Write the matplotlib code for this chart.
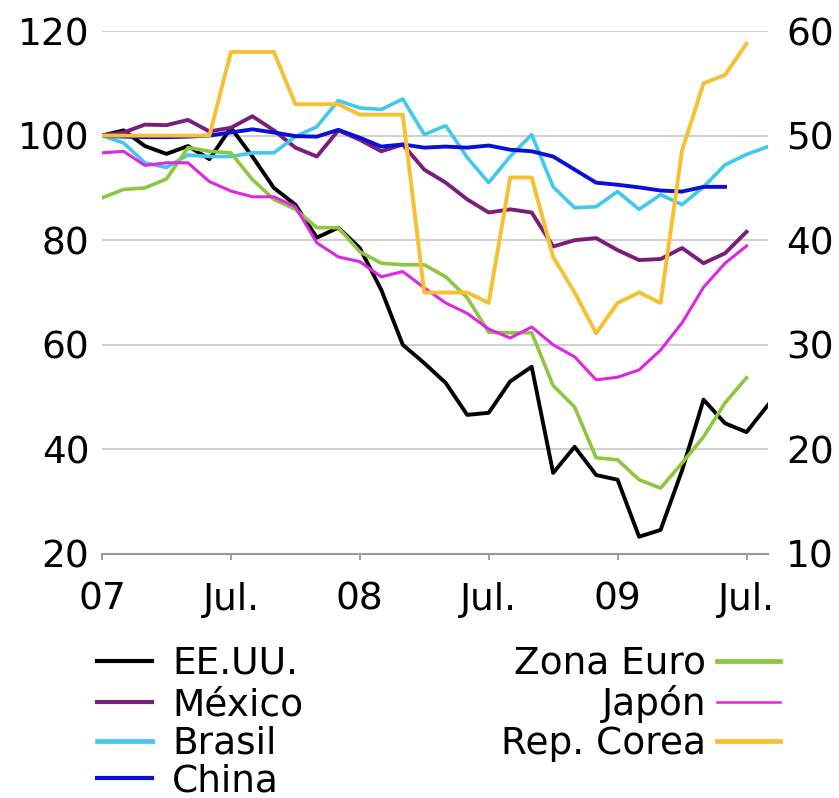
import numpy as np
import matplotlib
matplotlib.use("Agg")
import matplotlib.pyplot as plt
from matplotlib.lines import Line2D

# meses desde ene-2007 (indice 0) hasta ago-2009 (indice 31)
months = np.arange(32)
tick_pos = [0, 6, 12, 18, 24, 30]
tick_labels = ["07", "Jul.", "08", "Jul.", "09", "Jul."]

eeuu = [100, 101, 98, 96.5, 98, 95.5, 101.5, 96, 90, 86.8, 80.5, 82.4,
        78.5, 70.5, 60, 56.5, 52.7, 46.6, 47, 53, 55.8, 35.5, 40.5, 35.1,
        34.2, 23.3, 24.6, 36, 49.5, 45, 43.3, 48.5]
mexico = [100, 100.6, 102.1, 102, 103, 100.8, 101.5, 103.7, 101, 97.7, 96, 101,
          99.2, 97, 98.3, 93.5, 91, 87.8, 85.3, 85.9, 85.3, 78.8, 80, 80.4,
          78.1, 76.2, 76.4, 78.5, 75.6, 77.5, 81.6]
brasil = [100, 98.6, 94.8, 93.9, 96.3, 96, 96, 96.7, 96.7, 99.8, 101.7, 106.7,
          105.3, 105, 107, 100.2, 101.9, 95.8, 91, 96, 100.2, 90.2, 86.2, 86.4,
          89.3, 85.9, 88.7, 86.8, 90.2, 94.4, 96.4, 97.9]
china = [100, 99.8, 99.7, 99.7, 99.8, 100, 100.6, 101.2, 100.6, 99.9, 99.8, 101.1,
         99.6, 97.9, 98.3, 97.7, 97.9, 97.7, 98.1, 97.3, 97, 96, 93.5, 91,
         90.6, 90.1, 89.5, 89.3, 90.2, 90.2]
zona_euro = [88.1, 89.7, 90, 91.7, 97.7, 97, 96.7, 91.6, 87.8, 85.9, 82.4, 82.4,
             77.8, 75.6, 75.3, 75.3, 73, 69, 62.4, 62.3, 62.3, 52.2, 48.1, 38.4,
             38, 34.2, 32.6, 37.4, 42.4, 48.9, 53.7]
japon = [96.7, 97, 94.3, 94.8, 94.8, 91.2, 89.4, 88.3, 88.3, 86.4, 79.5, 76.8,
         75.9, 73, 74, 70.9, 68, 66, 63, 61.3, 63.4, 60, 57.7, 53.3,
         53.8, 55.2, 59, 64.2, 71, 75.6, 78.9]
# eje derecho
corea = [50, 50, 50, 50, 50, 50, 58, 58, 58, 53, 53, 53,
         52, 52, 52, 35, 35, 35, 34, 46, 46, 38.4, 35, 31.1,
         34, 35, 34, 48.6, 55, 55.8, 58.8]

colors = {
    "EE.UU.": "#000000",
    "México": "#7B1E7B",
    "Brasil": "#40C8F0",
    "China": "#0A10D8",
    "Zona Euro": "#8DC63F",
    "Japón": "#E026E0",
    "Rep. Corea": "#F7C031",
}

FS = 27
plt.rcParams["font.family"] = ["DejaVu Sans"]

fig = plt.figure(figsize=(8.39, 7.98), dpi=100)
ax = fig.add_axes([102 / 839, 1 - 554 / 798, 666 / 839, 523 / 798])

left_series = [("EE.UU.", eeuu, 2.8), ("México", mexico, 2.8), ("Brasil", brasil, 2.6),
               ("China", china, 2.8), ("Zona Euro", zona_euro, 2.6), ("Japón", japon, 2.2)]
for name, vals, lw in left_series:
    ax.plot(months[:len(vals)], vals, color=colors[name], lw=lw, solid_joinstyle="round")

ax.set_xlim(0, 31)
ax.set_ylim(20, 120)
ax.set_yticks([20, 40, 60, 80, 100, 120])
ax.set_xticks(tick_pos)
ax.set_xticklabels(tick_labels)
ax.grid(axis="y", color="#cccccc", lw=1.3)
ax.set_axisbelow(True)
for s in ["top", "right", "left"]:
    ax.spines[s].set_visible(False)
ax.spines["bottom"].set_color("#999999")
ax.spines["bottom"].set_linewidth(1.5)
ax.tick_params(axis="y", length=0, pad=9, labelsize=FS)
ax.tick_params(axis="x", length=4, width=1.3, color="#999999", pad=16, labelsize=FS)

ax2 = ax.twinx()
ax2.plot(months[:len(corea)], corea, color=colors["Rep. Corea"], lw=2.8, solid_joinstyle="round")
ax2.set_ylim(10, 60)
ax2.set_yticks([10, 20, 30, 40, 50, 60])
for s in ["top", "right", "left", "bottom"]:
    ax2.spines[s].set_visible(False)
ax2.tick_params(axis="y", length=0, pad=13, labelsize=FS)

# leyenda
rows = [661, 702, 741, 778]
left_items = [("EE.UU.", 3.0), ("México", 3.0), ("Brasil", 3.4), ("China", 3.0)]
right_items = [("Zona Euro", 3.4), ("Japón", 1.8), ("Rep. Corea", 3.4)]
W, H = 839, 798
for (name, lw), y in zip(left_items, rows):
    fig.add_artist(Line2D([97 / W, 152 / W], [1 - y / H, 1 - y / H], color=colors[name], lw=lw))
    fig.text(172 / W, 1 - (y + 13) / H, name, fontsize=FS, ha="left", va="baseline")
for (name, lw), y in zip(right_items, rows):
    fig.add_artist(Line2D([717 / W, 780 / W], [1 - y / H, 1 - y / H], color=colors[name], lw=lw))
    fig.text(706 / W, 1 - (y + 13) / H, name, fontsize=FS, ha="right", va="baseline")

fig.savefig("out.png", dpi=100)
